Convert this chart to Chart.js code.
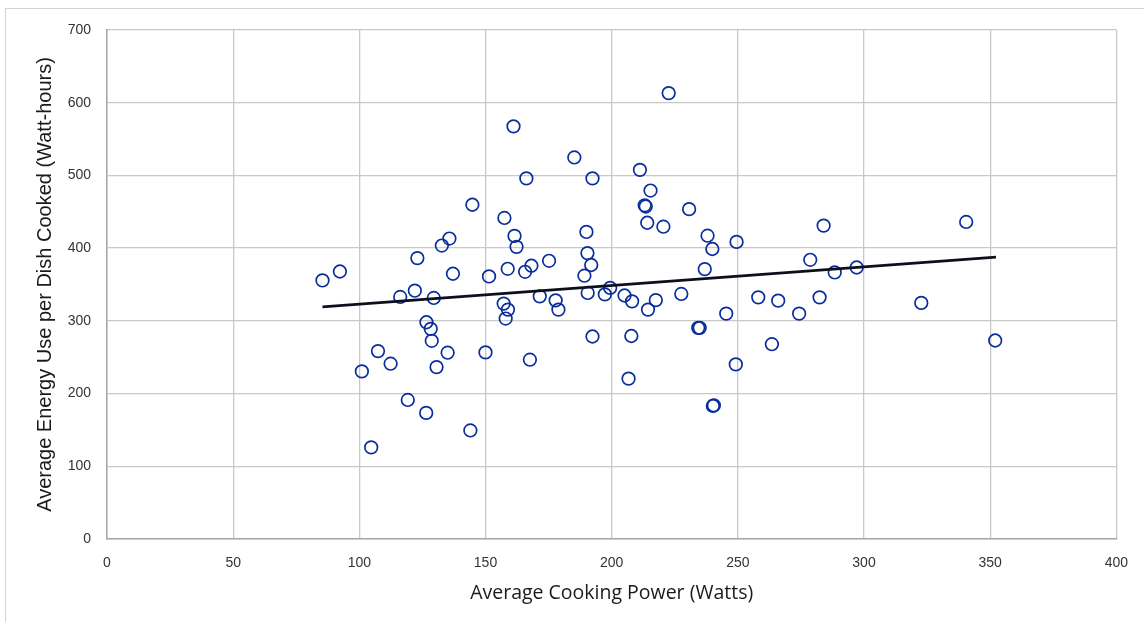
<!DOCTYPE html>
<html>
<head>
<meta charset="utf-8">
<script src="https://cdn.jsdelivr.net/npm/chart.js@4.4.1/dist/chart.umd.min.js"></script>
<style>
  html, body { margin: 0; padding: 0; background: #fff; overflow: hidden; }
  #frame { position: absolute; left: 5px; top: 8px; width: 1300px; height: 800px; border: 1.5px solid #d2d2d2; }
  #wrap { position: absolute; left: 0; top: 0; width: 1144px; height: 622px; }
</style>
</head>
<body>
<div id="frame"></div>
<div id="wrap"><canvas id="chart" width="1144" height="622"></canvas></div>
<script>
// cooking power (W) vs energy per dish (Wh)
const powerW = [
  85.4, 92.3, 101.0, 104.7, 107.4, 112.4, 116.2, 119.2, 122.0, 123.0,
  126.6, 126.5, 128.3, 128.7, 129.5, 130.6, 132.7, 135.7, 135.0, 137.1,
  144.0, 144.8, 150.0, 151.4, 157.5, 157.2, 158.0, 158.9, 158.8, 161.1,
  161.5, 162.3, 165.7, 166.2, 167.6, 168.2, 171.5, 175.2, 177.8, 178.9,
  185.2, 189.2, 190.0, 190.4, 190.5, 192.4, 191.9, 192.4, 197.3, 199.4,
  205.1, 206.7, 208.1, 207.8, 211.2, 213.1, 213.5, 214.1, 214.4, 215.4,
  217.5, 220.5, 222.6, 227.6, 230.7, 234.3, 234.9, 236.9, 238.0, 239.9,
  240.1, 240.5, 245.4, 249.2, 249.5, 258.1, 263.5, 266.0, 274.3, 278.7,
  282.4, 284.0, 288.4, 297.1, 322.7, 340.5, 352.0
];
const energyWh = [
  355.6, 367.9, 230.5, 126.0, 258.4, 241.1, 332.9, 191.2, 341.5, 386.3,
  298.1, 173.4, 289.0, 272.6, 331.5, 236.4, 403.6, 413.2, 256.2, 364.8,
  149.3, 459.7, 256.6, 361.1, 441.5, 323.7, 303.2, 315.5, 371.6, 567.5,
  416.8, 401.8, 367.5, 495.9, 246.6, 375.8, 333.7, 382.6, 328.2, 315.5,
  524.7, 362.1, 422.3, 393.2, 338.4, 495.9, 376.8, 278.5, 336.4, 345.3,
  334.9, 220.5, 326.8, 279.2, 507.7, 458.9, 457.3, 434.9, 315.5, 479.2,
  328.5, 429.5, 613.2, 337.0, 453.6, 290.4, 290.4, 371.2, 417.1, 398.8,
  183.0, 183.7, 310.0, 240.1, 408.6, 332.3, 267.9, 327.8, 310.0, 384.0,
  332.3, 431.0, 366.6, 373.4, 324.7, 436.0, 273.0
];

// linear trendline end points
const trendX = [85.4, 352.3];
const trendY = [319.2, 387.7];

const xTicks = [0, 50, 100, 150, 200, 250, 300, 350, 400];
const yTicks = [0, 100, 200, 300, 400, 500, 600, 700];

const xTitle = 'Average Cooking Power (Watts)';
const yTitle = 'Average Energy Use per Dish Cooked (Watt-hours)';

const points = powerW.map((x, i) => ({ x: x, y: energyWh[i] }));
const trend = trendX.map((x, i) => ({ x: x, y: trendY[i] }));

const gridCol = '#c8c8c8';
const tickFont = { family: 'Liberation Sans', size: 14 };

const ctx = document.getElementById('chart').getContext('2d');
new Chart(ctx, {
  type: 'scatter',
  data: {
    datasets: [
      {
        label: 'Trend',
        type: 'line',
        data: trend,
        borderColor: '#0c0f1c',
        borderWidth: 2.6,
        pointRadius: 0,
        fill: false,
        order: 0
      },
      {
        label: 'Dishes',
        data: points,
        pointStyle: 'circle',
        pointRadius: 6.3,
        pointBorderWidth: 1.7,
        pointBorderColor: '#0a2d9c',
        pointBackgroundColor: 'rgba(255,255,255,0)',
        order: 1
      }
    ]
  },
  options: {
    responsive: false,
    animation: false,
    layout: { padding: { left: 0, top: 30, right: 27, bottom: 0 } },
    plugins: { legend: { display: false }, tooltip: { enabled: false } },
    scales: {
      x: {
        type: 'linear',
        min: 0, max: 400,
        afterBuildTicks: (s) => { s.ticks = xTicks.map(v => ({ value: v })); },
        afterFit: (s) => { s.height = 83; },
        ticks: { font: tickFont, color: '#333333', padding: 16, maxRotation: 0 },
        grid: { color: gridCol, lineWidth: 1.3, drawTicks: false },
        border: { color: '#a8a8a8', width: 1.5 },
        title: {
          display: true, text: xTitle, color: '#1a1a1a',
          font: { family: 'Open Sans', size: 19.5 },
          padding: { top: 0, bottom: 17 }
        }
      },
      y: {
        type: 'linear',
        min: 0, max: 700,
        afterBuildTicks: (s) => { s.ticks = yTicks.map(v => ({ value: v })); },
        afterFit: (s) => { s.width = 107; },
        ticks: { font: tickFont, color: '#333333', padding: 16 },
        grid: { color: gridCol, lineWidth: 1.3, drawTicks: false },
        border: { color: '#a8a8a8', width: 1.5 },
        title: {
          display: true, text: yTitle, color: '#1a1a1a',
          font: { family: 'Liberation Sans', size: 20 },
          padding: { top: 33, bottom: 0 }
        }
      }
    }
  }
});
</script>
</body>
</html>
